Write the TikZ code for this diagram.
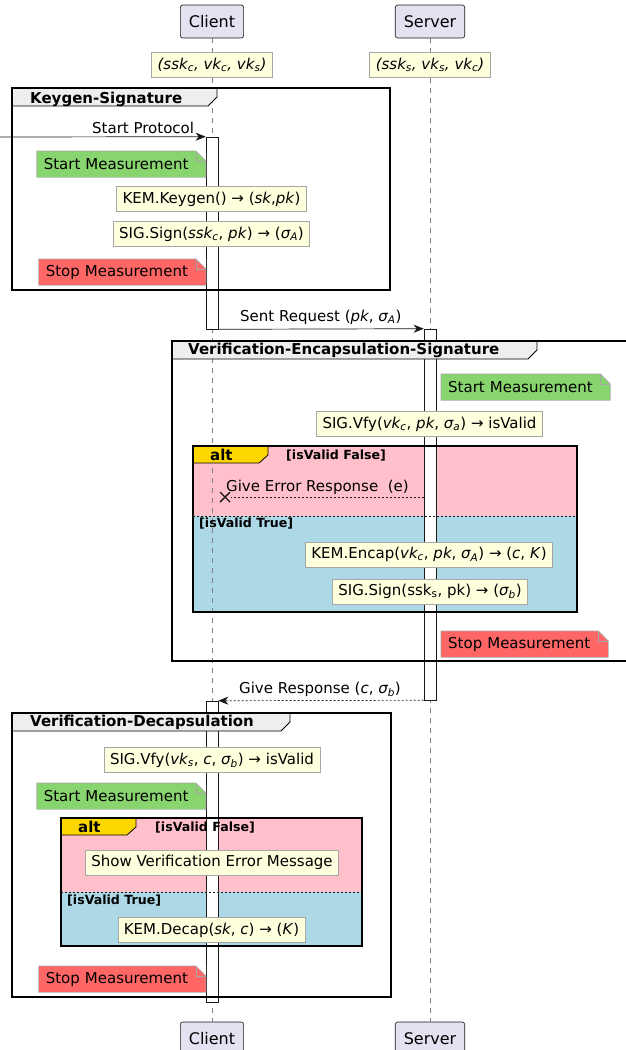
\documentclass[tikz,border=0pt]{standalone}
\usepackage{fontspec}
\setmainfont{DejaVu Sans}
\usetikzlibrary{arrows.meta, positioning, calc}
\definecolor{umlpart}{HTML}{E2E2F0}
\definecolor{umlnote}{HTML}{FEFFDD}
\definecolor{umledge}{HTML}{181818}
\definecolor{measgreen}{HTML}{88D46E}
\definecolor{measred}{HTML}{FF6666}
\definecolor{altpink}{HTML}{FFC0CB}
\definecolor{altblue}{HTML}{ADD8E6}
\definecolor{altgold}{HTML}{FFD700}
\definecolor{grouptab}{HTML}{EEEEEE}

\begin{document}
\begin{tikzpicture}[
  x=1pt, y=-1pt,
  participant/.style={draw=umledge, fill=umlpart, rounded corners=2.5pt, line width=0.6pt, font=\fontsize{16}{19}\selectfont, minimum height=33pt, inner xsep=8.5pt},
  lifeline/.style={draw=gray, line width=0.6pt, dash pattern=on 5pt off 5pt},
  activation/.style={draw=umledge, fill=white, line width=0.6pt, minimum width=12pt, inner sep=0pt},
  keynote/.style={draw=gray!70, fill=umlnote, line width=0.6pt, font=\fontsize{15}{18}\selectfont, minimum height=25pt, inner xsep=6pt, inner ysep=3pt},
  measnote/.style={font=\fontsize{15}{18}\selectfont, minimum height=26pt, inner xsep=7pt, inner ysep=3pt, align=left},
  startmeas/.style={measnote, fill=measgreen, text width=155pt},
  stopmeas/.style={measnote, fill=measred, text width=153pt},
  frameline/.style={draw=black, line width=1.4pt},
  tabshape/.style={draw=black, line width=0.8pt},
  tablabel/.style={font=\bfseries\fontsize{15}{18}\selectfont, anchor=base west, inner sep=0pt},
  condlabel/.style={font=\bfseries\fontsize{12.6}{15}\selectfont, anchor=base west, inner sep=0pt},
  msg/.style={draw=umledge, line width=0.7pt, -{Stealth[length=10pt, width=8pt, inset=3pt]}},
  reply/.style={msg, dash pattern=on 2pt off 2pt},
  msglabel/.style={font=\fontsize{15}{18}\selectfont, anchor=base west, inner sep=0pt},
  separator/.style={draw=umledge, line width=0.6pt, dash pattern=on 2pt off 2pt}
]
\useasboundingbox[fill=white] (0,0) rectangle (625,1050);

% alt backgrounds
\fill[altpink] (193,446) rectangle (577,516);
\fill[altblue] (193,516) rectangle (577,612);
\fill[altpink] (61,818) rectangle (362,892);
\fill[altblue] (61,892) rectangle (362,946);

% participants and lifelines
\node[participant] (client) at (212,21.5) {Client};
\node[participant] (server) at (430,21.5) {Server};
\node[participant] (clientb) at (212,1038.5) {Client};
\node[participant] (serverb) at (430,1038.5) {Server};
\draw[lifeline] (client) -- (clientb);
\draw[lifeline] (server) -- (serverb);

% activations
\node[activation, minimum height=192pt] (actc1) at (212,233) {};
\node[activation, minimum height=371pt] (acts) at (430,514.5) {};
\node[activation, minimum height=301pt] (actc2) at (212,851.5) {};

% groups
\fill[grouptab] (12,88) -- (217,88) -- (217,97) -- (208,106) -- (12,106) -- cycle;
\draw[tabshape] (217,88) -- (217,97) -- (208,106) -- (12,106);
\draw[frameline] (12,88) rectangle (390,290);
\node[tablabel] (kgtitle) at (30,103) {Keygen-Signature};

\fill[grouptab] (172,341) -- (537,341) -- (537,350) -- (528,359) -- (172,359) -- cycle;
\draw[tabshape] (537,341) -- (537,350) -- (528,359) -- (172,359);
\draw[frameline] (172,341) rectangle (640,661);
\node[tablabel] (vestitle) at (188,354) {Verification-Encapsulation-Signature};

\fill[grouptab] (12,713) -- (290,713) -- (290,722) -- (281,731) -- (12,731) -- cycle;
\draw[tabshape] (290,713) -- (290,722) -- (281,731) -- (12,731);
\draw[frameline] (12,713) rectangle (391,997);
\node[tablabel] (vdtitle) at (30,726) {Verification-Decapsulation};

% alt blocks
\fill[altgold] (193,446) -- (268,446) -- (268,455) -- (259,463) -- (193,463) -- cycle;
\draw[tabshape] (268,446) -- (268,455) -- (259,463) -- (193,463);
\draw[separator] (193,516) -- (577,516);
\draw[frameline] (193,446) rectangle (577,612);
\node[tablabel] (alt1) at (210,460) {alt};
\node[condlabel] (alt1no) at (286,459) {[isValid False]};
\node[condlabel] (alt1yes) at (199,527) {[isValid True]};

\fill[altgold] (61,818) -- (136,818) -- (136,827) -- (127,835) -- (61,835) -- cycle;
\draw[tabshape] (136,818) -- (136,827) -- (127,835) -- (61,835);
\draw[separator] (61,892) -- (362,892);
\draw[frameline] (61,818) rectangle (362,946);
\node[tablabel] (alt2) at (78,832) {alt};
\node[condlabel] (alt2no) at (155,831) {[isValid False]};
\node[condlabel] (alt2yes) at (67,904) {[isValid True]};

% key notes
\node[keynote] (keysc) at (212,65) {\textit{(ssk\textsubscript{c}, vk\textsubscript{c}, vk\textsubscript{s})}};
\node[keynote] (keyss) at (430,65) {\textit{(ssk\textsubscript{s}, vk\textsubscript{s}, vk\textsubscript{c})}};
\node[keynote] (kgen) at (211.5,199) {KEM.Keygen() → (\textit{sk},\textit{pk})};
\node[keynote] (signa) at (211.5,234) {SIG.Sign(\textit{ssk\textsubscript{c}}, \textit{pk}) → (\textit{σ\textsubscript{A}})};
\node[keynote] (vfya) at (429.5,424) {SIG.Vfy(\textit{vk\textsubscript{c}}, \textit{pk}, \textit{σ\textsubscript{a}}) → isValid};
\node[keynote] (encap) at (429,554.5) {KEM.Encap(\textit{vk\textsubscript{c}}, \textit{pk}, \textit{σ\textsubscript{A}}) → (\textit{c}, \textit{K})};
\node[keynote] (signb) at (430,591.5) {SIG.Sign(ssk\textsubscript{s}, pk) → (\textit{σ\textsubscript{b}})};
\node[keynote] (vfyb) at (212,760) {SIG.Vfy(\textit{vk\textsubscript{s}}, \textit{c}, \textit{σ\textsubscript{b}}) → isValid};
\node[keynote] (errmsg) at (212,862.5) {Show Verification Error Message};
\node[keynote] (decap) at (211.5,930) {KEM.Decap(\textit{sk}, \textit{c}) → (\textit{K})};

% measurement notes
\node[startmeas, anchor=north east] (sm1) at (206,151) {Start Measurement};
\node[stopmeas, anchor=north east] (em1) at (206,259) {Stop Measurement};
\node[startmeas, anchor=north west] (sm2) at (441,374) {Start Measurement};
\node[stopmeas, anchor=north west] (em2) at (441,631) {Stop Measurement};
\node[startmeas, anchor=north east] (sm3) at (206,783) {Start Measurement};
\node[stopmeas, anchor=north east] (em3) at (206,966) {Stop Measurement};
\foreach \n in {sm1, em1, sm2, em2, sm3, em3} {
  \fill[white] ([xshift=-10pt]\n.north east) -- (\n.north east) -- ([yshift=-10pt]\n.north east) -- cycle;
  \draw[gray!70, line width=0.6pt] (\n.south west) -- (\n.north west) -- ([xshift=-10pt]\n.north east) -- ([yshift=-10pt]\n.north east) -- (\n.south east) -- cycle;
  \draw[gray!70, line width=0.6pt] ([xshift=-10pt]\n.north east) -- ([xshift=-10pt, yshift=-10pt]\n.north east) -- ([yshift=-10pt]\n.north east);
}

% messages
\coordinate (protoin) at (0,137);
\draw[msg] (protoin) -- (actc1.north west);
\node[msglabel] (protolbl) at (92,133) {Start Protocol};

\draw[msg] (actc1.south east) -- (acts.north west);
\node[msglabel] (reqlbl) at (240,321) {Sent Request (\textit{pk}, \textit{σ\textsubscript{A}})};

\coordinate (errx) at (225,497);
\draw[reply, -] (acts.west |- errx) -- ([xshift=6pt]errx);
\draw[umledge, line width=1.4pt] ([shift={(-5pt,-5pt)}]errx) -- ([shift={(5pt,5pt)}]errx);
\draw[umledge, line width=1.4pt] ([shift={(-5pt,5pt)}]errx) -- ([shift={(5pt,-5pt)}]errx);
\node[msglabel] (errlbl) at (226,491) {Give Error Response\ \ (e)};

\draw[reply] (acts.south west) -- (actc2.north east);
\node[msglabel] (resplbl) at (239,693) {Give Response (\textit{c}, \textit{σ\textsubscript{b}})};
\end{tikzpicture}
\end{document}
